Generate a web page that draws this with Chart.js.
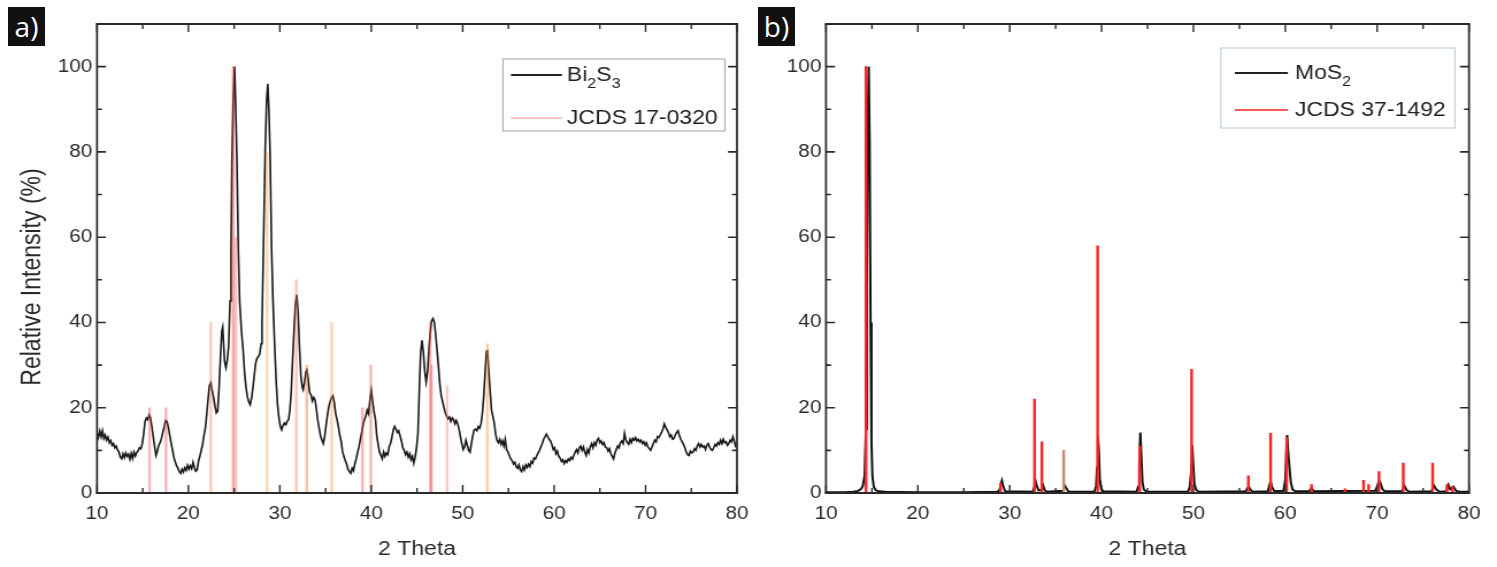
<!DOCTYPE html>
<html>
<head>
<meta charset="utf-8">
<script src="https://cdn.jsdelivr.net/npm/chart.js@4.4.1/dist/chart.umd.min.js"></script>
<style>
    body { margin: 0; background: #fff; width: 1497px; height: 567px; position: relative; overflow: hidden; }
    canvas { position: absolute; top: 0; }
    .tag { position: absolute; top: 7px; width: 37px; height: 39px; background: #111; color: #fff;
           font: 28px "Open Sans", sans-serif; line-height: 38px; text-align: center; }
</style>
</head>
<body>
<canvas id="xrdA" height="567" style="left:0;width:760px;height:567px"></canvas>
<canvas id="xrdB" height="567" style="left:760px;width:737px;height:567px"></canvas>
<div class="tag" style="left:8px">a)</div>
<div class="tag" style="left:758px">b)</div>

<script>
// ---- data (2 theta, relative intensity %) ----
const xRange = [10, 80];
const yRange = [0, 110];

const bi2s3Scan = [
    [10.0,14.0],[10.15,13.0],[10.3,14.5],[10.45,13.2],[10.6,14.6],[10.75,12.8],[10.9,13.6],[11.05,12.4],
    [11.2,13.1],[11.35,11.8],[11.5,12.3],[11.65,11.2],[11.8,11.6],[11.95,10.6],[12.1,11.0],[12.25,10.1],
    [12.4,9.6],[12.55,8.4],[12.7,8.0],[12.85,9.2],[13.0,8.3],[13.15,9.4],[13.3,8.6],[13.45,9.1],
    [13.6,7.9],[13.75,9.3],[13.9,8.1],[14.05,9.6],[14.2,8.7],[14.35,9.5],[14.5,9.9],[14.65,10.6],
    [14.8,10.4],[14.95,11.5],[15.1,13.8],[15.25,16.8],[15.4,17.6],[15.55,17.2],[15.7,18.3],[15.85,17.6],
    [16.0,15.6],[16.15,13.2],[16.3,11.0],[16.45,8.8],[16.6,9.8],[16.75,11.2],[16.9,11.8],[17.05,12.8],
    [17.2,14.2],[17.35,15.5],[17.5,17.0],[17.65,16.8],[17.8,15.4],[17.95,13.6],[18.1,11.8],[18.25,10.2],
    [18.4,8.4],[18.55,7.4],[18.7,6.4],[18.85,5.8],[19.0,5.0],[19.15,4.6],[19.3,5.6],[19.45,4.9],
    [19.6,5.9],[19.75,5.3],[19.9,6.5],[20.05,5.6],[20.2,6.4],[20.35,5.7],[20.5,7.2],[20.65,6.0],
    [20.8,5.1],[20.95,5.4],[21.1,7.4],[21.25,8.6],[21.4,10.0],[21.55,11.4],[21.7,13.6],[21.85,15.2],
    [22.0,18.4],[22.15,22.0],[22.3,25.2],[22.45,25.8],[22.6,24.0],[22.75,22.4],[22.9,20.4],[23.05,18.8],
    [23.2,19.2],[23.35,24.6],[23.5,31.8],[23.65,38.0],[23.75,38.9],[23.85,35.0],[23.95,31.0],[24.1,29.4],
    [24.25,31.2],[24.4,34.5],[24.55,45.0],[24.66,57.0],[24.76,78.0],[24.9,92.0],[25.05,100.0],[25.18,90.0],
    [25.3,78.0],[25.46,57.0],[25.6,45.0],[25.8,38.0],[26.0,33.0],[26.15,28.0],[26.3,24.8],[26.45,22.6],
    [26.6,21.4],[26.75,20.7],[26.9,22.2],[27.05,24.6],[27.2,27.6],[27.35,30.4],[27.5,31.6],[27.65,32.0],
    [27.8,32.6],[27.95,35.0],[28.05,40.0],[28.2,57.0],[28.39,80.0],[28.55,92.0],[28.68,96.0],[28.8,90.0],
    [28.94,79.0],[29.1,57.0],[29.25,45.0],[29.45,33.5],[29.6,26.0],[29.75,20.6],[29.9,17.6],[30.05,15.6],
    [30.2,14.8],[30.35,15.8],[30.5,16.4],[30.65,16.0],[30.8,16.8],[30.95,17.2],[31.1,19.5],[31.25,24.0],
    [31.4,31.5],[31.55,38.0],[31.7,44.2],[31.85,46.5],[32.0,42.0],[32.15,34.0],[32.3,27.4],[32.45,24.8],
    [32.55,24.2],[32.7,26.0],[32.85,28.4],[32.95,29.2],[33.1,26.6],[33.25,23.6],[33.4,23.0],[33.55,21.6],
    [33.7,22.4],[33.85,21.8],[34.0,19.6],[34.15,17.0],[34.3,15.2],[34.45,13.4],[34.6,12.4],[34.75,11.6],
    [34.9,13.2],[35.05,15.8],[35.2,18.2],[35.35,20.2],[35.5,21.4],[35.65,22.4],[35.8,22.8],[35.95,21.2],
    [36.1,18.6],[36.25,17.2],[36.4,15.6],[36.55,13.6],[36.7,12.2],[36.85,9.8],[37.0,8.6],[37.15,7.6],
    [37.3,6.8],[37.45,5.6],[37.6,5.0],[37.75,4.6],[37.9,5.8],[38.05,5.2],[38.2,6.8],[38.35,8.0],
    [38.5,9.6],[38.65,10.8],[38.8,12.6],[38.95,14.2],[39.1,16.0],[39.25,17.2],[39.4,18.0],[39.55,19.4],
    [39.7,18.6],[39.85,21.8],[40.0,24.0],[40.15,21.4],[40.3,19.0],[40.45,17.4],[40.6,13.4],[40.75,11.4],
    [40.9,9.6],[41.05,8.8],[41.2,8.0],[41.35,9.6],[41.5,8.6],[41.65,9.4],[41.8,9.0],[41.95,10.8],
    [42.1,11.6],[42.25,13.0],[42.4,14.8],[42.55,15.6],[42.7,15.0],[42.85,14.2],[43.0,14.6],[43.15,13.4],
    [43.3,12.2],[43.45,10.6],[43.6,10.0],[43.75,9.0],[43.9,9.6],[44.05,8.4],[44.2,9.2],[44.35,7.8],
    [44.5,8.6],[44.65,7.0],[44.8,8.4],[44.95,10.6],[45.1,14.0],[45.25,24.0],[45.4,33.0],[45.55,35.8],
    [45.7,33.0],[45.85,28.6],[46.0,26.0],[46.15,28.4],[46.3,33.5],[46.45,37.8],[46.6,40.4],[46.75,40.9],
    [46.9,40.0],[47.05,37.0],[47.2,33.4],[47.35,29.6],[47.5,25.4],[47.65,22.8],[47.8,21.4],[47.95,20.0],
    [48.1,18.8],[48.25,18.0],[48.4,17.4],[48.55,17.8],[48.7,16.8],[48.85,17.6],[49.0,17.2],[49.15,16.2],
    [49.3,17.0],[49.45,16.2],[49.6,15.0],[49.75,13.2],[49.9,11.6],[50.05,10.2],[50.2,10.8],[50.35,12.4],
    [50.5,11.2],[50.65,10.0],[50.8,9.6],[50.95,11.6],[51.1,13.4],[51.25,14.8],[51.4,15.0],[51.55,14.6],
    [51.7,15.6],[51.85,15.2],[52.0,16.2],[52.15,18.6],[52.3,22.6],[52.45,28.2],[52.6,33.2],[52.7,33.6],
    [52.85,28.4],[53.0,23.8],[53.15,19.4],[53.3,18.0],[53.45,16.4],[53.6,13.8],[53.75,12.4],[53.9,11.8],
    [54.05,12.6],[54.2,11.4],[54.35,12.2],[54.5,11.0],[54.65,12.6],[54.8,10.2],[54.95,9.6],[55.1,8.8],
    [55.25,8.0],[55.4,7.6],[55.55,6.8],[55.7,7.2],[55.85,6.2],[56.0,5.8],[56.15,6.6],[56.3,5.4],
    [56.45,5.0],[56.6,6.2],[56.75,5.4],[56.9,6.6],[57.05,6.0],[57.2,6.8],[57.35,6.2],[57.5,7.4],
    [57.65,7.0],[57.8,8.2],[57.95,8.0],[58.1,8.8],[58.25,9.4],[58.4,10.0],[58.55,10.8],[58.7,11.6],
    [58.85,12.6],[59.0,13.2],[59.15,13.8],[59.3,13.2],[59.45,12.6],[59.6,12.2],[59.75,11.4],[59.9,10.2],
    [60.05,10.6],[60.2,9.2],[60.35,9.8],[60.5,8.6],[60.65,8.2],[60.8,7.4],[60.95,7.8],[61.1,6.9],
    [61.25,7.6],[61.4,7.2],[61.55,8.0],[61.7,7.6],[61.85,8.4],[62.0,8.0],[62.15,8.8],[62.3,9.6],
    [62.45,10.2],[62.6,9.4],[62.75,10.6],[62.9,11.0],[63.05,10.0],[63.2,10.8],[63.35,9.6],[63.5,8.8],
    [63.65,10.2],[63.8,9.4],[63.95,10.8],[64.1,11.6],[64.25,10.6],[64.4,11.8],[64.55,11.2],[64.7,12.4],
    [64.85,12.8],[65.0,11.8],[65.15,12.2],[65.3,11.4],[65.45,11.8],[65.6,10.8],[65.75,10.6],[65.9,9.8],
    [66.05,10.4],[66.2,9.2],[66.35,8.6],[66.5,8.0],[66.65,9.4],[66.8,10.2],[66.95,11.0],[67.1,10.6],
    [67.25,11.8],[67.4,12.2],[67.55,11.6],[67.7,14.0],[67.85,12.4],[68.0,11.8],[68.15,11.4],[68.3,12.6],
    [68.45,11.8],[68.6,12.8],[68.75,12.4],[68.9,13.0],[69.05,12.2],[69.2,12.6],[69.35,12.0],[69.5,12.4],
    [69.65,11.6],[69.8,12.0],[69.95,11.2],[70.1,11.8],[70.25,10.8],[70.4,10.4],[70.55,10.0],[70.7,10.8],
    [70.85,11.6],[71.0,12.4],[71.15,12.0],[71.3,13.2],[71.45,13.0],[71.6,13.6],[71.75,14.2],[71.9,15.0],
    [72.05,16.2],[72.2,15.4],[72.35,14.8],[72.5,14.2],[72.65,13.2],[72.8,13.6],[72.95,12.6],[73.1,12.8],
    [73.25,13.6],[73.4,14.2],[73.55,14.6],[73.7,13.4],[73.85,12.6],[74.0,12.0],[74.15,11.4],[74.3,10.6],
    [74.45,9.6],[74.6,9.0],[74.75,8.8],[74.9,9.8],[75.05,9.4],[75.2,9.6],[75.35,10.4],[75.5,10.0],
    [75.65,11.0],[75.8,11.6],[75.95,10.8],[76.1,11.4],[76.25,10.8],[76.4,11.0],[76.55,10.2],[76.7,11.2],
    [76.85,11.6],[77.0,10.8],[77.15,10.2],[77.3,10.0],[77.45,10.6],[77.6,11.4],[77.75,11.0],[77.9,11.8],
    [78.05,11.4],[78.2,12.4],[78.35,11.6],[78.5,12.6],[78.65,11.8],[78.8,12.0],[78.95,11.2],[79.1,11.6],
    [79.25,12.4],[79.4,12.0],[79.55,13.2],[79.7,12.2],[79.85,11.0],[80.0,11.4]
];

const jcds170320 = [
    [15.75,20],[17.55,20],[22.45,40],[24.9,100],[25.2,60],[28.6,80],[31.8,50],[32.95,30],
    [35.66,40],[39.04,20],[39.95,30],[46.45,40],[46.58,30],[48.3,25],[52.7,35]
];

const mos2Scan = [
    [10.0,0.2],[12.0,0.2],[13.0,0.3],[13.5,0.5],[13.8,0.9],[14.0,1.6],[14.2,4.0],[14.35,15],
    [14.45,50],[14.55,88],[14.65,100],[14.75,82],[14.85,40],[14.95,12],[15.05,4.0],[15.2,1.5],
    [15.4,0.7],[15.7,0.4],[16.5,0.3],[20.0,0.2],[25.0,0.2],[28.7,0.3],[28.9,0.8],[29.05,2.2],
    [29.15,2.9],[29.3,1.5],[29.5,0.4],[32.5,0.3],[32.7,1.5],[32.8,2.9],[32.95,1.6],[33.15,0.6],
    [33.5,0.8],[33.65,1.7],[33.8,0.7],[34.0,0.3],[35.8,0.5],[36.0,1.7],[36.15,1.2],[36.4,0.3],
    [39.2,0.3],[39.4,1.5],[39.5,6.0],[39.6,13.3],[39.7,10.0],[39.8,3.5],[39.95,1.0],[40.2,0.4],
    [43.8,0.3],[44.0,1.5],[44.1,6.0],[44.22,14.2],[44.32,9.0],[44.45,2.5],[44.6,0.8],[44.9,0.3],
    [49.4,0.3],[49.6,1.4],[49.75,5.0],[49.87,11.2],[49.97,7.0],[50.1,2.2],[50.3,0.7],[50.6,0.3],
    [55.7,0.4],[55.9,1.2],[56.0,1.6],[56.15,1.0],[56.4,0.3],[58.1,0.4],[58.3,2.0],[58.4,2.7],
    [58.55,1.4],[58.8,0.4],[59.8,0.5],[60.0,3.0],[60.1,9.0],[60.2,13.6],[60.3,10.0],[60.45,6.0],
    [60.6,2.5],[60.8,0.8],[61.1,0.4],[62.6,0.4],[62.85,1.2],[63.1,0.4],[69.8,0.5],[70.0,1.5],
    [70.2,2.9],[70.35,2.4],[70.55,1.0],[70.8,0.4],[72.7,0.4],[72.95,1.7],[73.2,0.7],[73.5,0.3],
    [75.9,0.4],[76.2,1.7],[76.45,0.8],[76.8,0.3],[77.5,0.4],[77.75,1.9],[77.95,0.9],[78.3,1.5],
    [78.6,0.5],[79.0,0.3],[80.0,0.3]
];

const jcds371492 = [
    [14.35,100],[29.0,2.3],[32.7,22],[33.5,12],[35.88,10],[39.57,58],[44.15,11],[49.8,29],
    [55.98,4],[58.4,14],[60.15,13],[62.85,2],[66.5,1],[68.52,3],[69.07,2],[70.2,5],
    [72.84,7],[76.04,7],[77.6,2],[78.2,1.5]
];

// ---- styles ----
const stickColorsA = [
    "rgba(240,70,70,0.4)", "rgba(240,70,70,0.4)", "rgba(245,120,70,0.4)", "rgba(235,60,60,0.45)",
    "rgba(240,80,80,0.35)", "rgba(250,150,70,0.4)", "rgba(245,120,70,0.4)", "rgba(240,110,60,0.45)",
    "rgba(250,150,70,0.4)", "rgba(240,70,70,0.4)", "rgba(240,70,70,0.4)", "rgba(240,80,80,0.4)",
    "rgba(240,80,80,0.45)", "rgba(245,120,80,0.4)", "rgba(250,150,60,0.45)"
];
const stickColorsB = jcds371492.map(p => p[0] === 35.88 ? "#c9876e" : "#ff2424");

const S = 1.15;          // the source figure is stretched horizontally
const sx = v => v / S;
const FAMILY = "'Liberation Sans', Arial, sans-serif";
const TICK_FONT = { family: FAMILY, size: 18 };
const INK = "#2a2a2a";

// frame + inward ticks on all sides, optional y title
const framePlugin = {
    id: "frame",
    afterDatasetsDraw(chart, args, o) {
        const ctx = chart.ctx;
        const a = chart.chartArea;
        const xs = chart.scales.x;
        const ys = chart.scales.y;
        ctx.save();
        ctx.strokeStyle = INK;

        ctx.lineWidth = 1.6 / S;
        ctx.beginPath();
        xs.ticks.forEach(t => {
            const px = xs.getPixelForValue(t.value);
            const len = t.value % 10 === 0 ? 8 : 5;
            ctx.moveTo(px, a.bottom); ctx.lineTo(px, a.bottom - len);
            ctx.moveTo(px, a.top); ctx.lineTo(px, a.top + len);
        });
        ctx.stroke();

        ctx.lineWidth = 1.6;
        ctx.beginPath();
        ys.ticks.forEach(t => {
            const py = ys.getPixelForValue(t.value);
            const len = sx(t.value % 20 === 0 ? 9 : 5);
            ctx.moveTo(a.left, py); ctx.lineTo(a.left + len, py);
            ctx.moveTo(a.right, py); ctx.lineTo(a.right - len, py);
        });
        ctx.stroke();

        ctx.lineWidth = 2;
        ctx.beginPath();
        ctx.moveTo(a.left - 1, a.top); ctx.lineTo(a.right + 1, a.top);
        ctx.moveTo(a.left - 1, a.bottom); ctx.lineTo(a.right + 1, a.bottom);
        ctx.stroke();
        ctx.lineWidth = 2 / S;
        ctx.beginPath();
        ctx.moveTo(a.left, a.top); ctx.lineTo(a.left, a.bottom);
        ctx.moveTo(a.right, a.top); ctx.lineTo(a.right, a.bottom);
        ctx.stroke();

        if (o.yTitle) {
            ctx.translate(sx(o.yTitle.x), o.yTitle.y);
            ctx.rotate(-Math.PI / 2);
            ctx.fillStyle = INK;
            ctx.font = "23px " + FAMILY;
            ctx.textAlign = "center";
            ctx.textBaseline = "middle";
            ctx.fillText(o.yTitle.text, 0, 0);
        }
        ctx.restore();
    }
};

// legend box with subscript digits
const SUB = "₀₁₂₃₄₅₆₇₈₉";
const boxLegend = {
    id: "boxLegend",
    afterDraw(chart, args, o) {
        const ctx = chart.ctx;
        const [bx, by, bw, bh] = o.box;
        ctx.save();
        ctx.fillStyle = "#fff";
        ctx.fillRect(sx(bx), by, sx(bw), bh);
        ctx.strokeStyle = o.border;
        ctx.lineWidth = 1;
        ctx.strokeRect(sx(bx), by, sx(bw), bh);

        o.rows.forEach((row, i) => {
            const ds = chart.data.datasets[i];
            ctx.strokeStyle = row.color;
            ctx.lineWidth = 2;
            ctx.beginPath();
            ctx.moveTo(sx(o.sample[0]), row.y);
            ctx.lineTo(sx(o.sample[1]), row.y);
            ctx.stroke();

            ctx.fillStyle = "#222";
            ctx.textBaseline = "middle";
            let x = sx(o.textX);
            let run = "";
            let sub = false;
            const flush = () => {
                if (!run) return;
                ctx.font = (sub ? "14px " : "20px ") + FAMILY;
                ctx.fillText(run, x, row.y + (sub ? 9 : 0));
                x += ctx.measureText(run).width;
                run = "";
            };
            for (const ch of ds.label) {
                const k = SUB.indexOf(ch);
                const isSub = k >= 0;
                if (isSub !== sub) { flush(); sub = isSub; }
                run += isSub ? String(k) : ch;
            }
            flush();
        });
        ctx.restore();
    }
};

function panelOptions(canvasWidth, plotLeft, plotRight, yTitle, legend) {
    return {
        responsive: false,
        animation: false,
        layout: { padding: 0 },
        plugins: {
            legend: { display: false },
            tooltip: { enabled: false },
            frame: { yTitle: yTitle },
            boxLegend: legend
        },
        scales: {
            x: {
                type: "linear",
                position: "bottom",
                offset: false,
                min: xRange[0],
                max: xRange[1],
                grid: { display: false, drawTicks: false, offset: false },
                border: { display: false },
                ticks: {
                    stepSize: 5,
                    autoSkip: false,
                    maxRotation: 0,
                    padding: 10,
                    color: INK,
                    font: TICK_FONT,
                    callback: v => (v % 10 === 0 ? v : "")
                },
                title: { display: true, text: "2 Theta", color: INK, font: { family: FAMILY, size: 20 }, padding: { top: 0, bottom: 6 } },
                afterFit: s => { s.height = 567 - 493; }
            },
            xTop: {
                type: "linear",
                position: "top",
                grid: { display: false, drawTicks: false },
                border: { display: false },
                ticks: { display: false },
                afterFit: s => { s.height = 24; }
            },
            y: {
                type: "linear",
                min: yRange[0],
                max: yRange[1],
                grid: { display: false, drawTicks: false },
                border: { display: false },
                ticks: {
                    stepSize: 10,
                    autoSkip: false,
                    padding: 4,
                    color: INK,
                    font: TICK_FONT,
                    callback: v => (v % 20 === 0 && v <= 100 ? v : "")
                },
                afterFit: s => { s.width = sx(plotLeft); }
            },
            yRight: {
                type: "linear",
                position: "right",
                grid: { display: false, drawTicks: false },
                border: { display: false },
                ticks: { display: false },
                afterFit: s => { s.width = sx(canvasWidth - plotRight); }
            }
        }
    };
}

// ---- panel a : Bi2S3 ----
const canvasA = document.getElementById("xrdA");
canvasA.width = Math.round(sx(760));

new Chart(canvasA, {
    type: "line",
    data: {
        datasets: [{
            label: "Bi₂S₃",
            data: bi2s3Scan.map(p => ({ x: p[0], y: p[1] })),
            borderColor: "#1a1a1a",
            borderWidth: 1.6,
            pointRadius: 0,
            tension: 0,
            order: 1
        }, {
            type: "bar",
            label: "JCDS 17-0320",
            data: jcds170320.map(p => ({ x: p[0], y: p[1] })),
            backgroundColor: stickColorsA,
            barThickness: 2 / S,
            order: 0
        }]
    },
    options: panelOptions(760, 97, 739, { text: "Relative Intensity (%)", x: 33, y: 277 }, {
        box: [503, 59, 222, 72],
        border: "#a0a0a0",
        sample: [511, 562],
        textX: 567,
        rows: [{ y: 75, color: "#222" }, { y: 118, color: "#f8c4c4" }]
    }),
    plugins: [framePlugin, boxLegend]
});

// ---- panel b : MoS2 ----
const canvasB = document.getElementById("xrdB");
canvasB.width = Math.round(sx(737));

new Chart(canvasB, {
    type: "line",
    data: {
        datasets: [{
            label: "MoS₂",
            data: mos2Scan.map(p => ({ x: p[0], y: p[1] })),
            borderColor: "#111",
            borderWidth: 2,
            pointRadius: 0,
            tension: 0,
            order: 1
        }, {
            type: "bar",
            label: "JCDS 37-1492",
            data: jcds371492.map(p => ({ x: p[0], y: p[1] })),
            backgroundColor: stickColorsB,
            barThickness: 2 / S,
            order: 0
        }]
    },
    options: panelOptions(737, 66, 709, null, {
        box: [461, 48, 234, 80],
        border: "#b6caca",
        sample: [475, 528],
        textX: 535,
        rows: [{ y: 73, color: "#222" }, { y: 110, color: "#ff5a5a" }]
    }),
    plugins: [framePlugin, boxLegend]
});
</script>
</body>
</html>
